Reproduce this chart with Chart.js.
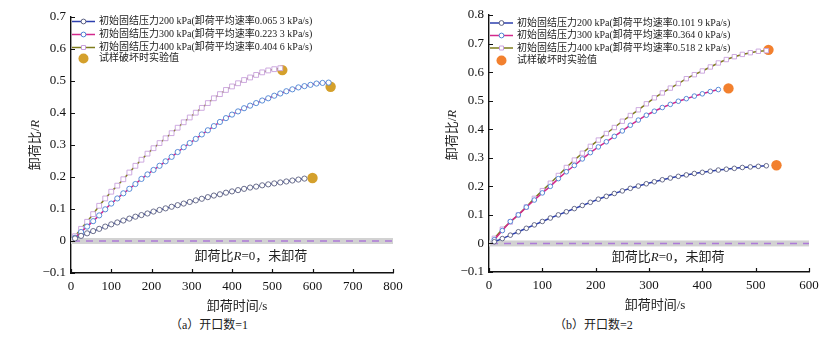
<!DOCTYPE html>
<html>
<head>
<meta charset="utf-8">
<script src="https://cdn.jsdelivr.net/npm/chart.js@4.4.0/dist/chart.umd.min.js"></script>
<style>
  body { margin: 0; background: #fff; width: 826px; height: 350px; position: relative; overflow: hidden; }
  .panel { position: absolute; top: 0; width: 413px; height: 316px; }
  .cap { position: absolute; top: 317px; font: 12px/16px "Liberation Serif", "Noto Sans CJK SC", serif; color: #222; }
</style>
</head>
<body>
<div class="panel" style="left:0"><canvas id="chartA" width="413" height="316"></canvas></div>
<div class="panel" style="left:413px"><canvas id="chartB" width="413" height="316"></canvas></div>
<div class="cap" style="left:170px">（a）开口数=1</div>
<div class="cap" style="left:554px">（b）开口数=2</div>

<script>
// ---- data ----
// (a) one opening: unloading time (s) shared by all three curves
const timeA = [10, 25, 40, 55, 70, 85, 100, 115, 130, 145, 160, 175, 190, 205, 220, 235, 250, 265, 280, 295,
  310, 325, 340, 355, 370, 385, 400, 415, 430, 445, 460, 475, 490, 505, 520, 535, 550, 565, 580, 595, 610, 625, 640];
const ratioA200 = [0.008, 0.016, 0.024, 0.031, 0.038, 0.045, 0.052, 0.058, 0.064, 0.07, 0.076, 0.081, 0.086, 0.092,
  0.097, 0.102, 0.107, 0.112, 0.117, 0.122, 0.127, 0.132, 0.137, 0.142, 0.146, 0.151, 0.155, 0.159, 0.163, 0.167,
  0.17, 0.174, 0.177, 0.18, 0.183, 0.186, 0.189, 0.192, 0.195];
const ratioA300 = [0.01, 0.028, 0.045, 0.062, 0.08, 0.099, 0.117, 0.133, 0.149, 0.163, 0.178, 0.194, 0.208, 0.222,
  0.235, 0.249, 0.263, 0.278, 0.293, 0.306, 0.319, 0.333, 0.346, 0.359, 0.372, 0.384, 0.395, 0.405, 0.415, 0.423,
  0.431, 0.439, 0.446, 0.454, 0.461, 0.468, 0.474, 0.48, 0.484, 0.488, 0.492, 0.494, 0.495];
const ratioA400 = [0.015, 0.038, 0.06, 0.084, 0.11, 0.133, 0.154, 0.173, 0.193, 0.214, 0.235, 0.254, 0.273, 0.29,
  0.306, 0.321, 0.337, 0.354, 0.371, 0.386, 0.401, 0.416, 0.431, 0.446, 0.459, 0.472, 0.483, 0.493, 0.503, 0.511,
  0.519, 0.527, 0.533, 0.537, 0.54];
const failTimeA = [600, 645, 525];
const failRatioA = [0.197, 0.482, 0.534];

// (b) two openings
const timeB = [10, 25, 40, 55, 70, 85, 100, 115, 130, 145, 160, 175, 190, 205, 220, 235, 250, 265, 280, 295,
  310, 325, 340, 355, 370, 385, 400, 415, 430, 445, 460, 475, 490, 505, 520];
const ratioB200 = [0.006, 0.017, 0.029, 0.041, 0.053, 0.065, 0.077, 0.089, 0.1, 0.111, 0.122, 0.133, 0.144, 0.155,
  0.165, 0.175, 0.184, 0.193, 0.201, 0.209, 0.216, 0.223, 0.229, 0.235, 0.24, 0.245, 0.249, 0.253, 0.257, 0.26,
  0.263, 0.266, 0.268, 0.27, 0.272];
const ratioB300 = [0.013, 0.045, 0.077, 0.1, 0.127, 0.152, 0.177, 0.2, 0.227, 0.251, 0.273, 0.296, 0.318, 0.338,
  0.356, 0.375, 0.394, 0.414, 0.432, 0.449, 0.463, 0.476, 0.487, 0.498, 0.507, 0.516, 0.524, 0.532, 0.539];
const ratioB400 = [0.018, 0.05, 0.075, 0.1, 0.128, 0.158, 0.185, 0.211, 0.238, 0.266, 0.292, 0.316, 0.34, 0.362,
  0.385, 0.406, 0.428, 0.448, 0.468, 0.489, 0.51, 0.527, 0.544, 0.56, 0.577, 0.591, 0.604, 0.618, 0.632, 0.644,
  0.654, 0.662, 0.668, 0.673, 0.675];
const failTimeB = [539, 449, 524];
const failRatioB = [0.274, 0.543, 0.678];

const legendA = ['初始固结压力200 kPa(卸荷平均速率0.065 3 kPa/s)', '初始固结压力300 kPa(卸荷平均速率0.223 3 kPa/s)',
  '初始固结压力400 kPa(卸荷平均速率0.404 6 kPa/s)', '试样破坏时实验值'];
const legendB = ['初始固结压力200 kPa(卸荷平均速率0.101 9 kPa/s)', '初始固结压力300 kPa(卸荷平均速率0.364 0 kPa/s)',
  '初始固结压力400 kPa(卸荷平均速率0.518 2 kPa/s)', '试样破坏时实验值'];

// ---- styles ----
const lineColors = ['#2c3fae', '#d3288c', '#7f7c1c'];
const markColors = ['#5a5f80', '#4a82d4', '#c8a0dc'];
const markStyles = ['circle', 'circle', 'rect'];
const SERIF = '"Liberation Serif", "Noto Sans CJK SC", serif';

function toPoints(ts, rs) {
  return rs.map((r, i) => ({ x: ts[i], y: r }));
}

// draw a row of text runs (some italic) centred or left aligned at (x, y)
function drawRuns(ctx, runs, x, y, align) {
  let w = 0;
  runs.forEach(r => { ctx.font = r.f; w += ctx.measureText(r.t).width; });
  let cx = align === 'center' ? x - w / 2 : x;
  ctx.textAlign = 'left';
  ctx.textBaseline = 'middle';
  runs.forEach(r => { ctx.font = r.f; ctx.fillText(r.t, cx, y); cx += ctx.measureText(r.t).width; });
}

function makeOverlay(cfg) {
  return {
    id: 'overlay',
    beforeDatasetsDraw(chart) {
      const { ctx, chartArea: a, scales: { y } } = chart;
      const y0 = y.getPixelForValue(0);
      ctx.save();
      ctx.fillStyle = '#d2d2d2';
      ctx.fillRect(a.left, y0 - 3, a.right - a.left, 6);
      ctx.strokeStyle = '#ad7ad8';
      ctx.lineWidth = 1.6;
      ctx.setLineDash([7, 6]);
      ctx.beginPath();
      ctx.moveTo(a.left + 2, y0);
      ctx.lineTo(a.right, y0);
      ctx.stroke();
      ctx.restore();
    },
    afterDraw(chart) {
      const { ctx, chartArea: a, scales: { x, y } } = chart;
      ctx.save();
      // inward tick marks
      ctx.strokeStyle = '#111';
      ctx.lineWidth = 1.2;
      ctx.beginPath();
      x.ticks.forEach(t => {
        const px = Math.round(x.getPixelForValue(t.value)) + 0.5;
        ctx.moveTo(px, a.bottom); ctx.lineTo(px, a.bottom - 4);
      });
      y.ticks.forEach(t => {
        const py = Math.round(y.getPixelForValue(t.value)) + 0.5;
        ctx.moveTo(a.left, py); ctx.lineTo(a.left + 4, py);
      });
      ctx.stroke();

      ctx.fillStyle = '#222';
      const f13 = '13px ' + SERIF;
      const i13 = 'italic 13px "Liberation Serif", serif';
      // zero-line note
      drawRuns(ctx, [{ t: '卸荷比', f: f13 }, { t: 'R', f: i13 }, { t: '=0，未卸荷', f: f13 }],
        x.getPixelForValue(cfg.noteX), y.getPixelForValue(-0.05), 'center');
      // axis titles
      drawRuns(ctx, [{ t: '卸荷时间/s', f: f13 }], (a.left + a.right) / 2 + cfg.xTitleShift, cfg.xTitleY, 'center');
      ctx.save();
      ctx.translate(cfg.yTitleX, cfg.yTitleY);
      ctx.rotate(-Math.PI / 2);
      drawRuns(ctx, [{ t: '卸荷比/', f: f13 }, { t: 'R', f: i13 }], 0, 0, 'center');
      ctx.restore();

      // legend
      const lx0 = a.left + 1, lx1 = a.left + 24, mx = a.left + 12.5, tx = a.left + 28;
      cfg.legend.forEach((label, i) => {
        const ly = cfg.legendY[i];
        if (i < 3) {
          ctx.strokeStyle = lineColors[i];
          ctx.lineWidth = 1.5;
          ctx.beginPath(); ctx.moveTo(lx0, ly); ctx.lineTo(lx1, ly); ctx.stroke();
          ctx.fillStyle = '#fff';
          ctx.strokeStyle = markColors[i];
          ctx.lineWidth = 1;
          ctx.beginPath();
          if (markStyles[i] === 'rect') ctx.rect(mx - 2, ly - 2, 4, 4);
          else ctx.arc(mx, ly, 2.4, 0, Math.PI * 2);
          ctx.fill(); ctx.stroke();
        } else {
          ctx.fillStyle = cfg.failColor;
          ctx.beginPath(); ctx.arc(mx, ly, 5, 0, Math.PI * 2); ctx.fill();
        }
        ctx.fillStyle = '#222';
        drawRuns(ctx, [{ t: label, f: '10px ' + SERIF }], tx, ly, 'left');
      });
      ctx.restore();
    }
  };
}

function makeChart(id, cfg) {
  const datasets = cfg.series.map((rs, i) => ({
    data: toPoints(cfg.time, rs),
    showLine: true,
    borderColor: lineColors[i],
    borderWidth: 1.5,
    pointStyle: markStyles[i],
    pointRadius: markStyles[i] === 'rect' ? cfg.markR + 0.8 : cfg.markR,
    pointBackgroundColor: '#fff',
    pointBorderColor: markColors[i],
    pointBorderWidth: 0.9
  }));
  datasets.push({
    data: toPoints(cfg.failTime, cfg.failRatio),
    showLine: false,
    pointRadius: 5.2,
    pointBackgroundColor: cfg.failColor,
    pointBorderWidth: 0
  });

  const tickFont = { family: '"Liberation Serif", serif', size: 13 };
  new Chart(document.getElementById(id), {
    type: 'scatter',
    data: { datasets },
    options: {
      responsive: false,
      animation: false,
      events: [],
      layout: { padding: { top: cfg.padTop, right: cfg.padRight, left: 0, bottom: 0 } },
      scales: {
        x: {
          type: 'linear', min: 0, max: cfg.xMax,
          afterFit: s => { s.height = cfg.xHeight; },
          ticks: { stepSize: 100, color: '#111', font: tickFont, padding: 6, maxRotation: 0 },
          grid: { display: false, drawTicks: false },
          border: { display: true, color: '#111', width: 1.4 }
        },
        y: {
          min: -0.1, max: cfg.yMax,
          afterFit: s => { s.width = cfg.yWidth; },
          ticks: {
            stepSize: 0.1, color: '#111', font: tickFont, padding: 5,
            callback: v => {
              const r = Math.round(v * 10) / 10;
              return (r < 0 ? '\u2212' : '') + Math.abs(r);
            }
          },
          grid: { display: false, drawTicks: false },
          border: { display: true, color: '#111', width: 1.4 }
        }
      },
      plugins: { legend: { display: false }, tooltip: { enabled: false } }
    },
    plugins: [makeOverlay(cfg)]
  });
}

makeChart('chartA', {
  time: timeA, series: [ratioA200, ratioA300, ratioA400],
  failTime: failTimeA, failRatio: failRatioA, failColor: '#d4a02c',
  xMax: 800, yMax: 0.7, padTop: 17, padRight: 20, xHeight: 43, yWidth: 71, markR: 2.6,
  legend: legendA, legendY: [21.5, 34.5, 47.5, 58.5],
  noteX: 447, xTitleShift: 5, xTitleY: 307, yTitleX: 36, yTitleY: 145
});

makeChart('chartB', {
  time: timeB, series: [ratioB200, ratioB300, ratioB400],
  failTime: failTimeB, failRatio: failRatioB, failColor: '#f2802e',
  xMax: 600, yMax: 0.8, padTop: 15, padRight: 17, xHeight: 44, yWidth: 76, markR: 2.3,
  legend: legendB, legendY: [23, 35.5, 48, 60.5],
  noteX: 336, xTitleShift: 6, xTitleY: 306, yTitleX: 40, yTitleY: 135
});
</script>
</body>
</html>
